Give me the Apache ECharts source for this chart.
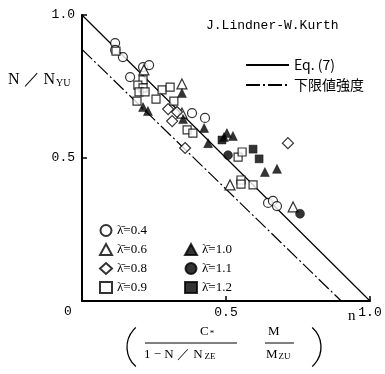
<!DOCTYPE html>
<html>
<head>
<meta charset="utf-8">
<script src="https://cdn.jsdelivr.net/npm/echarts@6/dist/echarts.min.js"></script>
<style>
html,body{margin:0;padding:0;background:#fff;}
#main{width:385px;height:374px;}
</style>
</head>
<body>
<div id="main"></div>
<script>
// Test points [n, N/Nyu] grouped by slenderness λ̄
const lam04 = [[0.115,0.902],[0.115,0.878],[0.142,0.853],[0.212,0.818],[0.233,0.825],[0.167,0.783],[0.382,0.657],[0.427,0.640],[0.646,0.343],[0.663,0.350],[0.677,0.332]];
const lam06 = [[0.215,0.808],[0.347,0.759],[0.347,0.657],[0.514,0.406],[0.733,0.329]];
const lam08 = [[0.299,0.671],[0.330,0.661],[0.313,0.629],[0.358,0.535],[0.715,0.552]];
const lam09 = [[0.118,0.874],[0.212,0.773],[0.194,0.755],[0.212,0.745],[0.198,0.731],[0.219,0.731],[0.278,0.738],[0.306,0.748],[0.257,0.706],[0.319,0.699],[0.191,0.699],[0.365,0.598],[0.385,0.587],[0.542,0.503],[0.556,0.521],[0.552,0.423],[0.552,0.409],[0.594,0.406]];
const lam10 = [[0.347,0.727],[0.351,0.636],[0.424,0.605],[0.438,0.552],[0.493,0.573],[0.503,0.587],[0.524,0.577],[0.635,0.451],[0.677,0.462],[0.212,0.678],[0.229,0.664]];
const lam11 = [[0.507,0.510],[0.757,0.305]];
const lam12 = [[0.594,0.531],[0.615,0.497],[0.486,0.563]];

// Design lines
const eq7Line = [[0,1.0],[1.0,0]];
const lowerLine = [[0,0.88],[0.9,0]];

const xTicks = ['0','0.5','1.0'];
const yTicks = ['0','0.5','1.0'];

const mono = 'Liberation Mono';
const serif = 'Liberation Serif';

function openSeries(name, symbol, size, data){
  return {name, type:'scatter', symbol, symbolSize:size, data,
    itemStyle:{color:'#fff', borderColor:'#000', borderWidth:1.2}, z:5};
}
function filledSeries(name, symbol, size, data){
  return {name, type:'scatter', symbol, symbolSize:size, data,
    itemStyle:{color:'#000', borderColor:'#000', borderWidth:0.5}, z:6};
}

const markerLegend = {orient:'vertical', itemWidth:12, itemHeight:11, itemGap:4,
  textStyle:{color:'#000', fontFamily:serif, fontSize:13, lineHeight:15}};

const chart = echarts.init(document.getElementById('main'), null, {renderer:'canvas'});
chart.setOption({
  animation:false,
  backgroundColor:'#fff',
  grid:{left:82, right:15, top:15, bottom:73},
  xAxis:{type:'value', min:0, max:1.0, interval:0.5,
    axisLine:{lineStyle:{color:'#000', width:2}},
    axisTick:{inside:true, length:5, lineStyle:{color:'#000', width:1.5}},
    splitLine:{show:false},
    axisLabel:{color:'#000', fontFamily:mono, fontSize:13, margin:5,
      formatter:(v)=> v===0 ? '' : xTicks[Math.round(v*2)]}},
  yAxis:{type:'value', min:0, max:1.0, interval:0.5,
    axisLine:{lineStyle:{color:'#000', width:2}},
    axisTick:{inside:true, length:5, lineStyle:{color:'#000', width:1.5}},
    splitLine:{show:false},
    axisLabel:{color:'#000', fontFamily:mono, fontSize:13, margin:7,
      formatter:(v)=> v===0 ? '' : yTicks[Math.round(v*2)]}},
  legend:[
    {data:['Eq. (7)','下限値強度'], orient:'vertical', left:240, top:53, itemWidth:43, itemHeight:10,
      itemGap:6, itemStyle:{opacity:0},
      textStyle:{color:'#000', fontFamily:'Noto Sans CJK JP', fontSize:14}},
    Object.assign({data:['λ̄=0.4','λ̄=0.6','λ̄=0.8','λ̄=0.9'], left:94, top:218}, markerLegend),
    Object.assign({data:['λ̄=1.0','λ̄=1.1','λ̄=1.2'], left:179, top:237}, markerLegend)
  ],
  series:[
    {name:'Eq. (7)', type:'line', data:eq7Line, symbol:'none', itemStyle:{color:'#000'},
      lineStyle:{color:'#000', width:1.2}, z:3},
    {name:'下限値強度', type:'line', data:lowerLine, symbol:'none', itemStyle:{color:'#000'},
      lineStyle:{color:'#000', width:1.2, type:[14,3,2,3]}, z:3},
    openSeries('λ̄=0.4','circle',9,lam04),
    openSeries('λ̄=0.6','triangle',10,lam06),
    openSeries('λ̄=0.8','diamond',11,lam08),
    openSeries('λ̄=0.9','rect',8,lam09),
    filledSeries('λ̄=1.0','triangle',9,lam10),
    filledSeries('λ̄=1.1','circle',9,lam11),
    filledSeries('λ̄=1.2','rect',8,lam12)
  ],
  graphic:[
    {type:'text', left:206, top:19, style:{text:'J.Lindner-W.Kurth', fill:'#000', font:'13px "Liberation Mono"'}},
    {type:'text', left:64, top:305, style:{text:'0', fill:'#000', font:'13px "Liberation Mono"'}},
    {type:'text', left:348, top:309, style:{text:'n', fill:'#000', font:'15px "Liberation Serif"'}},
    {type:'text', left:8, top:72, style:{rich:{
        b:{font:'16px "Liberation Serif"', fill:'#000'},
        s:{font:'10px "Liberation Serif"', fill:'#000', padding:[6,0,0,1]}},
      text:'{b|N ／ N}{s|YU}'}},
    // bracketed abscissa expression
    {type:'arc', shape:{cx:153, cy:347, r:26, startAngle:Math.PI-0.85, endAngle:Math.PI+0.85},
      style:{stroke:'#000', lineWidth:1.3, fill:null}},
    {type:'arc', shape:{cx:295, cy:347, r:26, startAngle:-0.85, endAngle:0.85},
      style:{stroke:'#000', lineWidth:1.3, fill:null}},
    {type:'text', left:200, top:325, style:{rich:{
        b:{font:'13px "Liberation Serif"', fill:'#000'},
        s:{font:'9px "Liberation Serif"', fill:'#000', padding:[4,0,0,1]}},
      text:'{b|C}{s|*}'}},
    {type:'line', shape:{x1:145, y1:343, x2:237, y2:343}, style:{stroke:'#000', lineWidth:1}},
    {type:'text', left:144, top:348, style:{rich:{
        b:{font:'13px "Liberation Serif"', fill:'#000'},
        s:{font:'9px "Liberation Serif"', fill:'#000', padding:[4,0,0,2]}},
      text:'{b|1 − N ／ N}{s|ZE}'}},
    {type:'text', left:268, top:325, style:{text:'M', fill:'#000', font:'13px "Liberation Serif"'}},
    {type:'line', shape:{x1:265, y1:343, x2:294, y2:343}, style:{stroke:'#000', lineWidth:1}},
    {type:'text', left:266, top:348, style:{rich:{
        b:{font:'13px "Liberation Serif"', fill:'#000'},
        s:{font:'9px "Liberation Serif"', fill:'#000', padding:[4,0,0,1]}},
      text:'{b|M}{s|ZU}'}}
  ]
});
</script>
</body>
</html>
